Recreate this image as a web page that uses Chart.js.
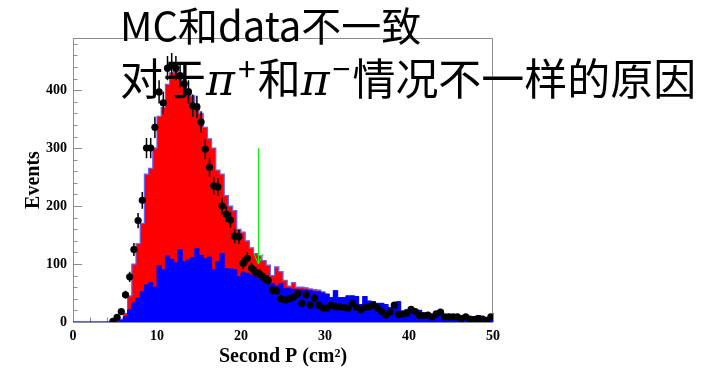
<!DOCTYPE html>
<html>
<head>
<meta charset="utf-8">
<script src="https://cdn.jsdelivr.net/npm/chart.js@4.4.1/dist/chart.umd.min.js"></script>
<style>
  body { margin: 0; background: #fff; }
  #wrap { position: relative; width: 701px; height: 370px; }
  .note {
    position: absolute;
    left: 120px;
    font-family: "Noto Sans CJK SC";
    font-size: 40px;
    line-height: 53px;
    color: #000;
    white-space: nowrap;
  }
  .pi { font-family: "DejaVu Serif"; font-style: italic; font-size: 44px; }
  .sup { display: inline-block; position: relative; top: -14px; font-size: 32px; line-height: 10px; margin: 0 2px 0 3px; }
</style>
</head>
<body>
<div id="wrap">
  <canvas id="chart-canvas" width="701" height="370"></canvas>
  <div class="note" style="top:-2px">MC和data不一致</div>
  <div class="note" style="top:50px; font-size:43px">对于<span class="pi">π</span><span class="sup">+</span>和<span class="pi">π</span><span class="sup">−</span>情况不一样的原因</div>
</div>
<script>
// binning: 100 bins from 0 to 50
let binLow = 0;
let binWidth = 0.5;

// measured events per bin (null = empty bin, no marker)
let dataCounts = [
  null, null, null, null, null, null, null, null, null, 1,
  8, 18, 47, 78, 125, 175, 210, 300, 300, 336,
  397, 378, 438, 443, 438, 425, 411, 397, 373, 371,
  345, 298, 267, 235, 233, 200, 186, 176, 148, 147,
  101, 110, 93, 86, 82, 76, 72, 55, 54, 40,
  38, 40, 43, 49, 32, 47, 29, 41, 29, 24,
  24, 29, 26, 26, 25, 24, 32, 25, 21, 25,
  26, 29, 24, 18, 12, 17, 29, 13, 14, 15,
  22, 18, 11, 11, 12, 9, 14, 17, 9, 9,
  9, 9, 6, 9, 5, 4, 6, 5, 3, 9
];

// total MC (red)
let mcTotal = [
  0, 0, 0, 0, 0, 0, 0, 0, 0, 0,
  2, 5, 15, 45, 100, 135, 170, 255, 265, 300,
  355, 370, 410, 430, 432, 425, 415, 402, 390, 376,
  360, 336, 316, 300, 262, 255, 218, 200, 192, 160,
  155, 140, 128, 118, 114, 106, 98, 80, 95, 87,
  72, 62, 68, 60, 60, 59, 57, 56, 55, 52,
  48, 42, 54, 42, 42, 45, 45, 44, 30, 44,
  36, 35, 32, 32, 30, 25, 25, 35, 18, 21,
  20, 20, 20, 13, 12, 13, 18, 17, 10, 13,
  12, 9, 10, 12, 9, 9, 11, 7, 7, 7
];

// MC component drawn in blue
let mcPart = [
  0, 0, 0, 0, 0, 0, 0, 0, 0, 0,
  0, 3, 9, 21, 33, 41, 52, 64, 68, 60,
  97, 90, 114, 108, 102, 125, 104, 107, 111, 127,
  115, 109, 112, 90, 104, 118, 92, 92, 90, 78,
  86, 84, 81, 78, 74, 72, 70, 66, 62, 66,
  58, 58, 56, 56, 55, 55, 54, 52, 52, 50,
  48, 42, 54, 42, 42, 45, 45, 44, 30, 44,
  36, 35, 32, 32, 30, 25, 25, 35, 18, 21,
  20, 20, 20, 13, 12, 13, 18, 17, 10, 13,
  12, 9, 10, 12, 9, 9, 11, 7, 7, 7
];

let xTicks = [0, 10, 20, 30, 40, 50];
let yTicks = [0, 100, 200, 300, 400];
let xMax = 50;
let yMax = 490;

// green cut arrow
let cutX = 22;
let arrowFrom = 300;
let arrowTo = 100;

function histPoints(counts) {
  let pts = counts.map(function (c, i) {
    return { x: binLow + i * binWidth, y: c };
  });
  pts.push({ x: binLow + counts.length * binWidth, y: counts[counts.length - 1] });
  return pts;
}

let dataPoints = [];
dataCounts.forEach(function (c, i) {
  if (c !== null) dataPoints.push({ x: binLow + (i + 0.5) * binWidth, y: c });
});

// frame + inward ticks, ROOT style
let frameTicks = {
  id: "frameTicks",
  beforeDatasetsDraw(chart) {
    let { ctx, chartArea: a, scales } = chart;
    ctx.save();
    ctx.strokeStyle = "#8c8c8c";
    ctx.lineWidth = 1;
    ctx.strokeRect(a.left + 0.5, a.top + 0.5, a.right - a.left - 1, a.bottom - a.top);
    ctx.beginPath();
    for (let v = 0; v <= yMax; v += 20) {
      let py = Math.round(scales.y.getPixelForValue(v)) + 0.5;
      let len = v % 100 === 0 ? 9 : 4.5;
      ctx.moveTo(a.left, py);
      ctx.lineTo(a.left + len, py);
    }
    for (let v = 0; v <= xMax; v += 2) {
      let px = Math.round(scales.x.getPixelForValue(v)) + 0.5;
      let len = v % 10 === 0 ? 9 : 4.5;
      ctx.moveTo(px, a.bottom);
      ctx.lineTo(px, a.bottom - len);
    }
    ctx.stroke();
    ctx.restore();
  },
};

let errorBars = {
  id: "errorBars",
  afterDatasetsDraw(chart) {
    let { ctx, scales } = chart;
    ctx.save();
    ctx.strokeStyle = "#000";
    ctx.lineWidth = 1.5;
    ctx.beginPath();
    dataPoints.forEach(function (p) {
      let err = Math.sqrt(p.y);
      let px = scales.x.getPixelForValue(p.x);
      ctx.moveTo(px, scales.y.getPixelForValue(Math.max(0, p.y - err)));
      ctx.lineTo(px, scales.y.getPixelForValue(p.y + err));
    });
    ctx.stroke();

    // cut arrow
    let ax = Math.round(scales.x.getPixelForValue(cutX)) + 0.5;
    let y0 = scales.y.getPixelForValue(arrowFrom);
    let y1 = scales.y.getPixelForValue(arrowTo);
    ctx.strokeStyle = "#00ff00";
    ctx.lineWidth = 1;
    ctx.beginPath();
    ctx.moveTo(ax, y0);
    ctx.lineTo(ax, y1);
    ctx.moveTo(ax - 4.5, y1 - 10);
    ctx.lineTo(ax, y1);
    ctx.lineTo(ax + 4.5, y1 - 10);
    ctx.stroke();
    ctx.restore();
  },
};

let labelFont = { family: "Liberation Serif", weight: "bold", size: 14 };
let titleFont = { family: "Liberation Serif", weight: "bold", size: 20, lineHeight: 1 };

let chart = new Chart(document.getElementById("chart-canvas"), {
  type: "line",
  data: {
    datasets: [
      {
        label: "data",
        data: dataPoints,
        showLine: false,
        pointRadius: 3.6,
        pointBackgroundColor: "#000",
        pointBorderWidth: 0,
        order: 0,
      },
      {
        label: "MC part",
        data: histPoints(mcPart),
        stepped: true,
        borderColor: "#0000ff",
        borderWidth: 1,
        backgroundColor: "#0000ff",
        fill: "origin",
        pointRadius: 0,
        order: 1,
      },
      {
        label: "MC total",
        data: histPoints(mcTotal),
        stepped: true,
        borderColor: "#6262ff",
        borderWidth: 1.2,
        backgroundColor: "#ff0000",
        fill: "origin",
        pointRadius: 0,
        order: 2,
      },
    ],
  },
  options: {
    responsive: false,
    animation: false,
    layout: { padding: { left: 0, top: 38, right: 208, bottom: 0 } },
    plugins: { legend: { display: false }, tooltip: { enabled: false } },
    scales: {
      x: {
        type: "linear",
        min: 0,
        max: xMax,
        grid: { display: false, drawTicks: false },
        border: { display: false },
        afterBuildTicks: function (s) {
          s.ticks = xTicks.map(function (v) { return { value: v }; });
        },
        afterFit: function (s) { s.height = 48; },
        ticks: { color: "#000", font: labelFont, padding: 6, maxRotation: 0 },
        title: {
          display: true,
          text: "Second P (cm²)",
          color: "#000",
          font: titleFont,
          padding: { top: 0, bottom: 3 },
        },
      },
      y: {
        min: 0,
        max: yMax,
        grid: { display: false, drawTicks: false },
        border: { display: false },
        afterBuildTicks: function (s) {
          s.ticks = yTicks.map(function (v) { return { value: v }; });
        },
        afterFit: function (s) { s.width = 73; },
        ticks: { color: "#000", font: labelFont, padding: 6 },
        title: {
          display: true,
          text: "Events",
          color: "#000",
          font: titleFont,
          padding: { top: 24, bottom: 0 },
        },
      },
    },
  },
  plugins: [frameTicks, errorBars],
});
</script>
</body>
</html>
